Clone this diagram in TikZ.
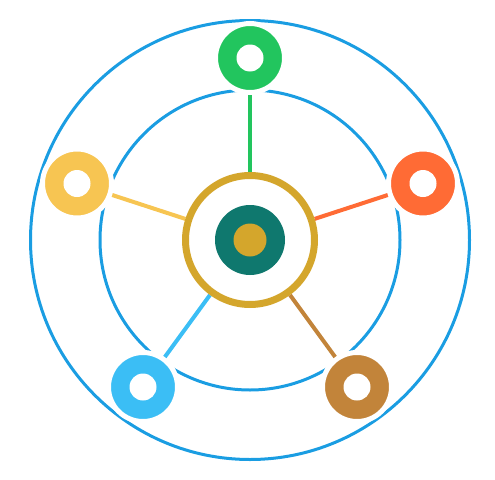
\documentclass[tikz,border=0pt]{standalone}
\usetikzlibrary{backgrounds}
\definecolor{cgreen}{HTML}{22C55E}
\definecolor{corange}{HTML}{FF6B35}
\definecolor{cyellow}{HTML}{F7C552}
\definecolor{cblue}{HTML}{3BBEF5}
\definecolor{cbrown}{HTML}{C2843A}
\definecolor{cring}{HTML}{1A9DE2}
\definecolor{cgold}{HTML}{D4A62C}
\definecolor{cteal}{HTML}{0F786E}
\tikzset{
  sat/.style={circle, inner sep=0pt, minimum size=69pt, draw=white, line width=5pt,
    path picture={\fill[white] (path picture bounding box.center) circle (13.5pt);}},
  spoke/.style={line width=4pt},
  orbit/.style={draw=cring, line width=3pt},
}
\begin{document}
\begin{tikzpicture}[x=1pt,y=-1pt]
\useasboundingbox (0,0) rectangle (495,479);
\node[circle, inner sep=0pt, minimum size=129pt, draw=cgold, line width=7pt, fill=white] (c) at (250,240) {};
\node[circle, inner sep=0pt, minimum size=70pt, fill=cteal] (t) at (250,240) {};
\node[circle, inner sep=0pt, minimum size=33pt, fill=cgold] (d) at (250,240) {};
\node[sat, fill=cgreen] (g) at (250,58) {};
\node[sat, fill=corange] (o) at (423,183.5) {};
\node[sat, fill=cbrown] (b) at (357,387) {};
\node[sat, fill=cblue] (l) at (143,387) {};
\node[sat, fill=cyellow] (y) at (77,183.5) {};
\begin{pgfonlayer}{background}
\draw[orbit] (c.center) circle (219.5);
\draw[orbit] (c.center) circle (150);
\draw[spoke, cgreen] (c) -- (g.center);
\draw[spoke, corange] (c) -- (o.center);
\draw[spoke, cbrown] (c) -- (b.center);
\draw[spoke, cblue] (c) -- (l.center);
\draw[spoke, cyellow] (c) -- (y.center);
\end{pgfonlayer}
\end{tikzpicture}
\end{document}
